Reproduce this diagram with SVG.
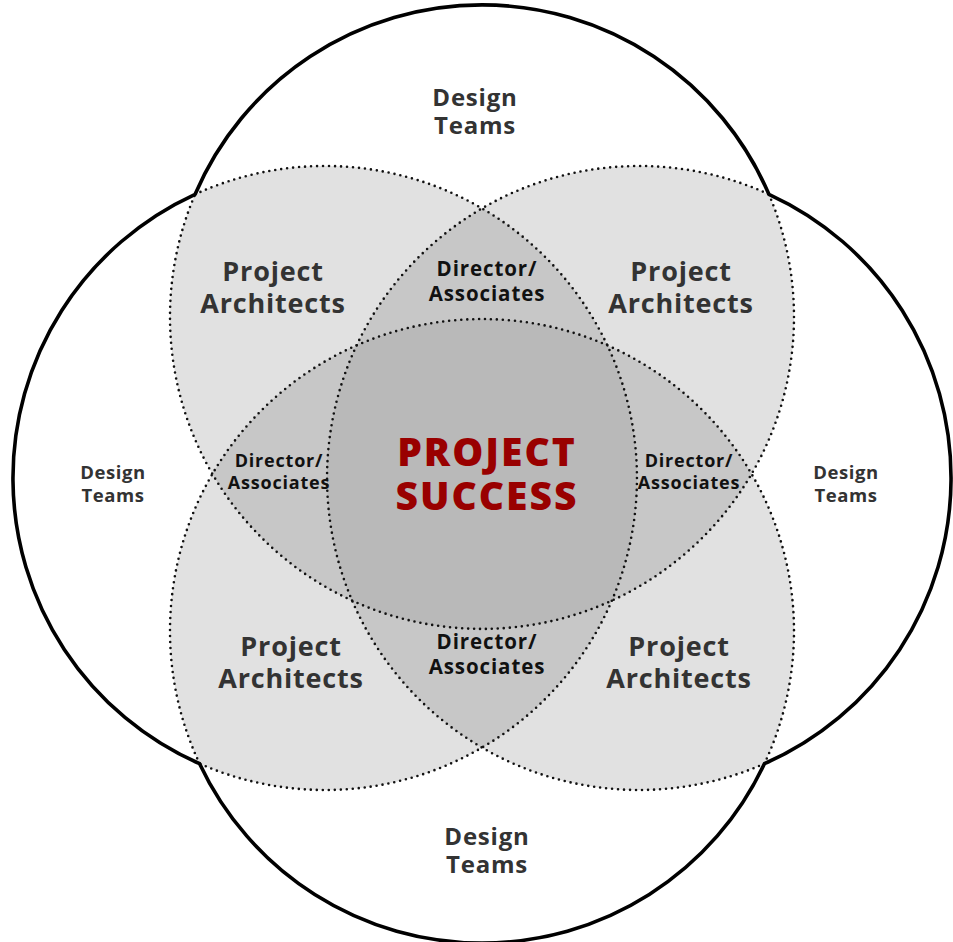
<svg xmlns="http://www.w3.org/2000/svg" width="953" height="942" viewBox="0 0 953 942">
<style>
.dot{fill:none;stroke:#111;stroke-width:2.6;stroke-dasharray:0 6;stroke-linecap:round}
.solid{fill:none;stroke:#000;stroke-width:3.6;stroke-linejoin:round}
text{font-family:"Open Sans","Liberation Sans",sans-serif;text-anchor:middle}
.dt{fill:#333;font-weight:700}
.pa{fill:#333;font-weight:700;font-size:27px;letter-spacing:0.8px}
.da{fill:#111;font-weight:700}
.ps{fill:#990000;font-weight:800;font-size:39px;letter-spacing:2px}
</style>
<defs>
<clipPath id="kT"><circle cx="482" cy="317" r="312"/></clipPath>
<clipPath id="kB"><circle cx="482" cy="631" r="312"/></clipPath>
<clipPath id="kL"><circle cx="325" cy="478" r="312"/></clipPath>
<clipPath id="kR"><circle cx="639" cy="478" r="312"/></clipPath>
</defs>
<rect width="953" height="942" fill="#fff"/>
<g id="fills">
<g fill="#e1e1e1">
<g clip-path="url(#kL)"><circle cx="482" cy="317" r="312"/><circle cx="482" cy="631" r="312"/></g>
<g clip-path="url(#kR)"><circle cx="482" cy="317" r="312"/><circle cx="482" cy="631" r="312"/></g>
</g>
<g fill="#c7c7c7">
<g clip-path="url(#kL)"><g clip-path="url(#kR)"><circle cx="482" cy="317" r="312"/><circle cx="482" cy="631" r="312"/></g></g>
<g clip-path="url(#kT)"><g clip-path="url(#kB)"><circle cx="325" cy="478" r="312"/><circle cx="639" cy="478" r="312"/></g></g>
</g>
<g clip-path="url(#kL)"><g clip-path="url(#kR)"><g clip-path="url(#kT)"><circle cx="482" cy="631" r="312" fill="#b9b9b9"/></g></g></g>
</g>
<g id="circles">
<path class="dot" d="M768.9 194.3 A312 312 0 1 1 195.1 194.3"/>
<path class="dot" d="M764.4 763.7 A312 312 0 1 1 768.9 194.3"/>
<path class="dot" d="M199.6 763.7 A312 312 0 1 1 764.4 763.7"/>
<path class="dot" d="M195.1 194.3 A312 312 0 1 1 199.6 763.7"/>
<path class="solid" d="M195.1 194.3 A312 312 0 0 1 768.9 194.3 A312 312 0 0 1 764.4 763.7 A312 312 0 0 1 199.6 763.7 A312 312 0 0 1 195.1 194.3 Z"/>
</g>
<g id="design-top" class="dt" font-size="24" letter-spacing="0.8"><text x="475" y="106">Design</text><text x="475" y="134">Teams</text></g>
<g id="design-left" class="dt" font-size="18.5" letter-spacing="0.6"><text x="113" y="479">Design</text><text x="113" y="502">Teams</text></g>
<g id="design-right" class="dt" font-size="18.5" letter-spacing="0.6"><text x="846" y="479">Design</text><text x="846" y="502">Teams</text></g>
<g id="design-bottom" class="dt" font-size="24" letter-spacing="0.8"><text x="487" y="845">Design</text><text x="487" y="873">Teams</text></g>
<g id="pa-tl" class="pa"><text x="273" y="281">Project</text><text x="273" y="313">Architects</text></g>
<g id="pa-tr" class="pa"><text x="681" y="281">Project</text><text x="681" y="313">Architects</text></g>
<g id="pa-bl" class="pa"><text x="291" y="656">Project</text><text x="291" y="688">Architects</text></g>
<g id="pa-br" class="pa"><text x="679" y="656">Project</text><text x="679" y="688">Architects</text></g>
<g id="da-top" class="da" font-size="20.5" letter-spacing="0.9"><text x="487" y="276">Director/</text><text x="487" y="301">Associates</text></g>
<g id="da-left" class="da" font-size="18" letter-spacing="0.8"><text x="279" y="467">Director/</text><text x="279" y="489">Associates</text></g>
<g id="da-right" class="da" font-size="18" letter-spacing="0.8"><text x="689" y="467">Director/</text><text x="689" y="489">Associates</text></g>
<g id="da-bottom" class="da" font-size="20.5" letter-spacing="0.9"><text x="487" y="649">Director/</text><text x="487" y="674">Associates</text></g>
<g id="success" class="ps"><text x="487" y="466">PROJECT</text><text x="487" y="510">SUCCESS</text></g>
</svg>
